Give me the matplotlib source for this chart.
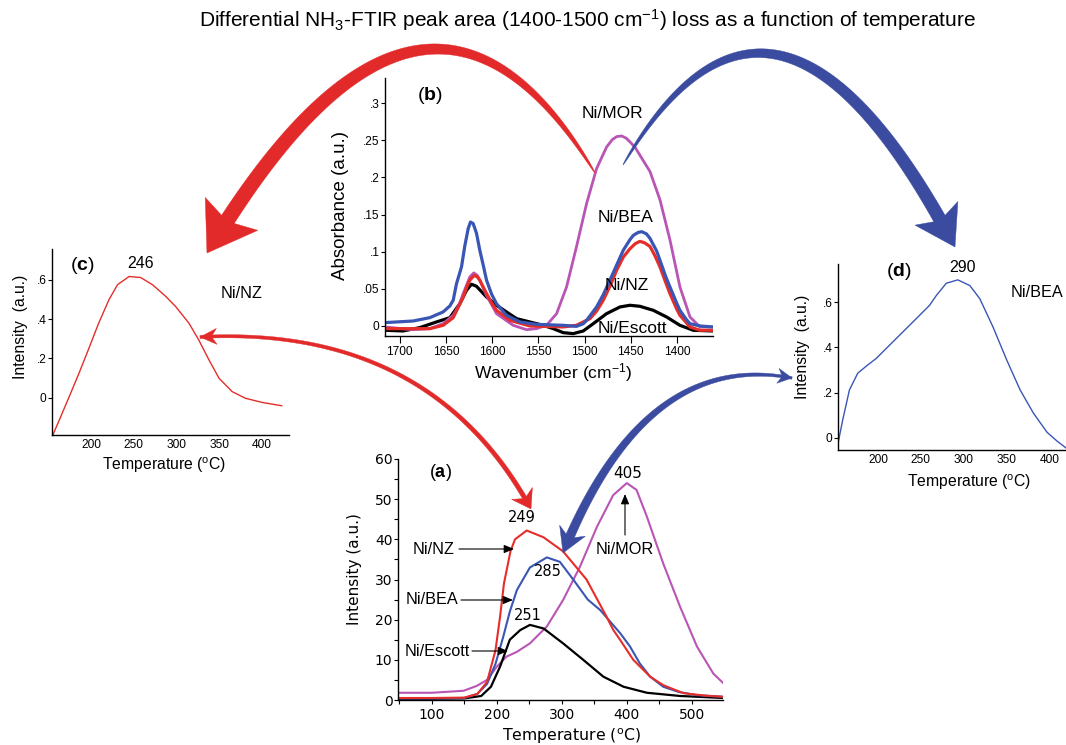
import numpy as np
import matplotlib
matplotlib.use('Agg')
import matplotlib.pyplot as plt
from matplotlib.patches import Polygon, FancyArrowPatch
from matplotlib import font_manager as fm

# ---------------- data ----------------
# (a) NH3-TPD profiles
tpd_nz_T = [50, 100, 150, 170, 185, 198, 205, 211, 221, 228, 246, 272, 302, 338, 369, 379, 390, 410, 436, 456, 487, 520, 549]
tpd_nz = [0.5, 0.5, 0.6, 1.5, 4.5, 12.4, 20.7, 29, 37, 40, 42.2, 40.5, 37, 30, 20.7, 17.5, 14.9, 10, 5.8, 3.7, 1.7, 1.1, 0.8]
tpd_bea_T = [50, 100, 150, 170, 185, 198, 210, 220, 231, 251, 277, 297, 318, 340, 359, 390, 405, 420, 436, 456, 480, 508, 549]
tpd_bea = [0.4, 0.4, 0.5, 1.5, 4, 9, 15.8, 22, 27.4, 33, 35.5, 34.4, 29.9, 25, 22.4, 16.6, 13.3, 9.1, 5.8, 3.3, 2, 1.2, 0.8]
tpd_esc_T = [50, 100, 150, 176, 191, 205, 220, 236, 251, 272, 302, 333, 364, 395, 431, 482, 549]
tpd_esc = [0.3, 0.3, 0.4, 1, 3.3, 8.3, 15, 17.4, 18.7, 17.8, 14.1, 10, 5.8, 3.3, 1.8, 1, 0.5]
tpd_mor_T = [50, 100, 149, 169, 185, 200, 215, 231, 251, 277, 302, 328, 354, 379, 400, 415, 431, 456, 482, 508, 533, 549]
tpd_mor = [1.8, 1.8, 2.3, 3.5, 5, 8.3, 10.8, 12, 14.1, 18.3, 24.9, 33.2, 43.1, 51, 54, 52.3, 45.6, 34, 23.2, 13.3, 6.6, 4.1]

# (b) NH3-FTIR spectra
ir_bea_w = [1716.2, 1685.6, 1667.5, 1653.1, 1645.8, 1642.2, 1638.6, 1633.2, 1629.6, 1626.0, 1623.5, 1620.6, 1617.0, 1613.4, 1609.7, 1606.1, 1600.7, 1595.3, 1584.5, 1570.0, 1552.0, 1523.1, 1508.7, 1501.4, 1497.8, 1487.0, 1479.8, 1472.6, 1465.3, 1458.1, 1451.0, 1447.3, 1442.0, 1438.0, 1433.0, 1429.2, 1422.0, 1418.4, 1412.0, 1407.6, 1400.0, 1396.8, 1390.0, 1385.9, 1375.1, 1361.4]
ir_bea = [.0045, .0067, .0112, .0189, .027, .0346, .057, .0796, .108, .131, .140, .138, .125, .102, .082, .0616, .043, .030, .0144, .0054, .0022, .0009, -.0005, .003, .0076, .0256, .042, .0616, .082, .102, .116, .122, .126, .127, .124, .118, .101, .0886, .066, .0526, .030, .0211, .009, .0031, 0, -.0013]
ir_nz_w = [1716.2, 1667.5, 1653.1, 1642.2, 1636.0, 1631.4, 1627.0, 1624.2, 1620.5, 1618.8, 1616.0, 1613.4, 1606.1, 1600.0, 1595.3, 1580.9, 1559.2, 1523.1, 1508.7, 1494.2, 1487.0, 1479.8, 1472.0, 1465.3, 1458.0, 1450.9, 1445.0, 1440.1, 1435.0, 1429.2, 1424.0, 1418.4, 1412.0, 1407.6, 1400.0, 1396.8, 1385.9, 1375.1, 1361.4]
ir_nz = [-.0036, -.0036, .0009, .0112, .027, .039, .054, .0616, .067, .068, .066, .0616, .0436, .030, .0211, .0076, 0, -.0013, .0009, .0099, .020, .0346, .055, .0751, .093, .104, .111, .114, .112, .107, .095, .0796, .058, .0436, .022, .0144, -.0013, -.0058, -.0058]
ir_mor_w = [1716.2, 1685.6, 1667.5, 1653.1, 1642.2, 1636.0, 1631.4, 1624.2, 1619.9, 1616.0, 1613.4, 1606.1, 1595.3, 1577.3, 1562.8, 1552.0, 1541.2, 1530.3, 1519.5, 1508.7, 1497.8, 1487.0, 1476.2, 1470.0, 1465.3, 1459.9, 1455.0, 1450.9, 1445.0, 1440.1, 1429.2, 1418.4, 1407.6, 1396.8, 1385.9, 1375.1, 1361.4]
ir_mor = [-.0013, -.005, -.0036, .0031, .0144, .028, .0436, .066, .0715, .068, .0616, .041, .0166, .0009, -.005, -.0036, .0009, .0166, .0526, .107, .165, .212, .241, .251, .255, .256, .253, .248, .240, .230, .208, .170, .116, .0526, .0121, -.0013, -.0013]
ir_esc_w = [1716.2, 1696.4, 1678.3, 1660.3, 1645.8, 1635.0, 1627.8, 1622.4, 1617.0, 1606.1, 1595.3, 1584.5, 1573.6, 1559.2, 1544.8, 1533.9, 1523.1, 1512.3, 1501.4, 1490.6, 1476.2, 1461.7, 1450.9, 1440.1, 1425.6, 1411.2, 1396.8, 1382.3, 1361.4]
ir_esc = [-.0058, -.0067, -.0022, .0054, .0112, .030, .048, .0562, .0535, .039, .0279, .0189, .0099, .0054, .0009, -.0036, -.009, -.0103, -.0067, .0031, .0166, .0256, .0279, .0265, .0211, .0121, .0009, -.0058, -.0067]

# (c) Ni/NZ differential peak area loss
diff_nz_T = [155.5, 163, 174.6, 186, 197.7, 209, 221, 231, 244.6, 258, 272, 287.6, 299, 314.6, 326, 338, 349.7, 365, 380.6, 400, 423]
diff_nz = [-0.19, -0.114, 0.005, 0.124, 0.252, 0.379, 0.498, 0.575, 0.617, 0.612, 0.575, 0.515, 0.464, 0.379, 0.294, 0.192, 0.099, 0.031, -0.003, -0.024, -0.041]
# (d) Ni/BEA differential peak area loss
diff_bea_T = [153, 159, 166.8, 176.5, 188, 198, 213.6, 229, 244.7, 260, 268, 279.6, 293, 307, 318.6, 334, 350, 365.6, 381, 397, 409, 419]
diff_bea = [-0.034, 0.08, 0.212, 0.286, 0.322, 0.351, 0.41, 0.468, 0.527, 0.585, 0.629, 0.683, 0.698, 0.673, 0.615, 0.49, 0.344, 0.212, 0.11, 0.025, -0.015, -0.044]

ir_xticks = [1700, 1650, 1600, 1550, 1500, 1450, 1400]
ir_yticks = [0, 0.05, 0.1, 0.15, 0.2, 0.25, 0.3]
ir_yticklabels = ['0', '.05', '.1', '.15', '.2', '.25', '.3']
diff_yticks = [0, 0.2, 0.4, 0.6]
diff_yticklabels = ['0', '.2', '.4', '.6']
diff_xticks = [200, 250, 300, 350, 400]
tpd_xticks = [100, 200, 300, 400, 500]
tpd_yticks = [0, 10, 20, 30, 40, 50, 60]

# ---------------- style ----------------
W, H = 1066, 745
plt.rcParams['mathtext.default'] = 'regular'
plt.rcParams['mathtext.fontset'] = 'custom'
plt.rcParams['mathtext.rm'] = 'Liberation Sans'
plt.rcParams['mathtext.bf'] = 'Liberation Sans:bold'
names = {f.name for f in fm.fontManager.ttflist}
ARIAL = 'Liberation Sans'
if 'Liberation Sans Narrow' in names:
    NARROW, NSIZE = 'Liberation Sans Narrow', 10
else:
    NARROW, NSIZE = 'Liberation Sans', 8.6
VERD = 'DejaVu Sans'

C_RED = '#e52d2a'
C_BLUE = '#3a56b4'
C_MAG = '#b955b5'
C_ARR_BLUE = '#3b4ca0'
C_ARR_RED = '#e32a2a'

fig = plt.figure(figsize=(W / 100, H / 100), dpi=100)


def add_ax(l, t, r, b):
    ax = fig.add_axes([l / W, 1 - b / H, (r - l) / W, (b - t) / H])
    ax.set_facecolor('none')
    for s in ['top', 'right']:
        ax.spines[s].set_visible(False)
    for s in ['left', 'bottom']:
        ax.spines[s].set_linewidth(1.0)
    return ax


def ftext(x, y, s, **kw):
    kw.setdefault('ha', 'center')
    kw.setdefault('va', 'center')
    return fig.text(x / W, 1 - y / H, s, **kw)


def fpt(p):
    return (p[0] / W, 1 - p[1] / H)


# ---------------- panel (b) ----------------
axb = add_ax(385, 78, 713, 336)
axb.plot(ir_esc_w, ir_esc, color='black', lw=2.3, solid_joinstyle='round')
axb.plot(ir_mor_w, ir_mor, color=C_MAG, lw=2.0, solid_joinstyle='round')
axb.plot(ir_nz_w, ir_nz, color=C_RED, lw=2.3, solid_joinstyle='round')
axb.plot(ir_bea_w, ir_bea, color=C_BLUE, lw=2.3, solid_joinstyle='round')
axb.set_xlim(1716, 1361)
axb.set_ylim(-0.0135, 0.334)
axb.set_xticks(ir_xticks)
axb.set_yticks(ir_yticks)
axb.set_yticklabels(ir_yticklabels)
axb.tick_params(axis='x', length=5, width=0.8, pad=2, labelsize=NSIZE, labelfontfamily=NARROW)
axb.tick_params(axis='y', length=3, width=0.8, pad=1, labelsize=NSIZE, labelfontfamily=NARROW)
ftext(553, 373, 'Wavenumber (cm$^{-1}$)', fontsize=12.5, family=ARIAL)
ftext(341, 205, 'Absorbance (a.u.)', fontsize=13.5, family=ARIAL, rotation=90)
ftext(430, 96, r'($\mathbf{b}$)', fontsize=14, family=ARIAL)
ftext(612, 113, 'Ni/MOR', fontsize=12.5, family=ARIAL)
ftext(626, 217, 'Ni/BEA', fontsize=12.5, family=ARIAL)
ftext(627, 285, 'Ni/NZ', fontsize=12.5, family=ARIAL)
ftext(632, 328, 'Ni/Escott', fontsize=12.5, family=ARIAL)

# ---------------- panel (c) ----------------
axc = add_ax(52, 249, 289, 435)
axc.plot(diff_nz_T, diff_nz, color=C_RED, lw=1.0)
axc.set_xlim(154.5, 431.5)
axc.set_ylim(-0.19, 0.757)
axc.set_xticks(diff_xticks)
axc.set_yticks(diff_yticks)
axc.set_yticklabels(diff_yticklabels)
axc.tick_params(axis='x', length=0, pad=3, labelsize=NSIZE, labelfontfamily=NARROW)
axc.tick_params(axis='y', length=3, width=0.8, pad=1, labelsize=NSIZE, labelfontfamily=NARROW)
ftext(164, 465, 'Temperature ($^{o}$C)', fontsize=11.3, family=ARIAL)
ftext(20, 327, 'Intensity  (a.u.)', fontsize=11.3, family=ARIAL, rotation=90)
ftext(82, 265, r'($\mathbf{c}$)', fontsize=14, family=ARIAL)
ftext(141, 263, '246', fontsize=11.5, family=ARIAL)
ftext(242, 294, 'Ni/NZ', fontsize=11.7, family=ARIAL)

# ---------------- panel (d) ----------------
axd = add_ax(838, 264, 1066, 450)
axd.plot(diff_bea_T, diff_bea, color=C_BLUE, lw=1.0)
axd.set_xlim(153.5, 419)
axd.set_ylim(-0.053, 0.768)
axd.set_xticks(diff_xticks)
axd.set_yticks(diff_yticks)
axd.set_yticklabels(diff_yticklabels)
axd.tick_params(axis='x', length=0, pad=3, labelsize=NSIZE, labelfontfamily=NARROW)
axd.tick_params(axis='y', length=3, width=0.8, pad=1, labelsize=NSIZE, labelfontfamily=NARROW)
ftext(969, 482, 'Temperature ($^{o}$C)', fontsize=11.3, family=ARIAL)
ftext(802, 347, 'Intensity  (a.u.)', fontsize=11.3, family=ARIAL, rotation=90)
ftext(899, 271, r'($\mathbf{d}$)', fontsize=14, family=ARIAL)
ftext(962, 268, '290', fontsize=11.5, family=ARIAL)
ftext(1037, 292, 'Ni/BEA', fontsize=11.7, family=ARIAL)

# ---------------- panel (a) ----------------
axa = add_ax(398, 459, 723, 700)
axa.plot(tpd_mor_T, tpd_mor, color=C_MAG, lw=1.5)
axa.plot(tpd_esc_T, tpd_esc, color='black', lw=1.6)
axa.plot(tpd_bea_T, tpd_bea, color=C_BLUE, lw=1.5)
axa.plot(tpd_nz_T, tpd_nz, color=C_RED, lw=1.5)
axa.set_xlim(48, 548)
axa.set_ylim(0, 60)
axa.set_xticks(tpd_xticks)
axa.set_xticks([50, 150, 250, 350, 450], minor=True)
axa.set_yticks(tpd_yticks)
axa.set_yticks([5, 15, 25, 35, 45, 55], minor=True)
axa.tick_params(axis='both', which='major', length=3, width=0.8, labelsize=10, labelfontfamily=VERD)
axa.tick_params(axis='x', which='major', pad=3)
axa.tick_params(axis='y', which='major', pad=1)
axa.tick_params(axis='both', which='minor', length=3, width=0.8)
ftext(572, 736, 'Temperature ($^{o}$C)', fontsize=11.3, family=VERD)
ftext(354, 569, 'Intensity (a.u.)', fontsize=11, family=VERD, rotation=90)
ftext(440, 472, r'($\mathbf{a}$)', fontsize=13, family=ARIAL)
ftext(522, 518, '249', fontsize=10.5, family=VERD)
ftext(548, 571, '285', fontsize=10.5, family=VERD)
ftext(528, 616, '251', fontsize=10.5, family=VERD)
ftext(628, 474, '405', fontsize=11, family=VERD)
ftext(455, 549, 'Ni/NZ', fontsize=11.7, family=ARIAL, ha='right')
ftext(458, 600, 'Ni/BEA', fontsize=11.7, family=ARIAL, ha='right')
ftext(470, 652, 'Ni/Escott', fontsize=11.7, family=ARIAL, ha='right')
ftext(625, 550, 'Ni/MOR', fontsize=11.7, family=ARIAL)


def small_arrow(p0, p1):
    fig.add_artist(FancyArrowPatch(fpt(p0), fpt(p1), transform=fig.transFigure,
                                   arrowstyle='-|>,head_length=0.6,head_width=0.25',
                                   mutation_scale=10, lw=0.8, color='black',
                                   shrinkA=0, shrinkB=0))


small_arrow((459, 549), (514, 549))
small_arrow((461, 600), (513, 600))
small_arrow((472, 651), (508, 651))
small_arrow((625, 535), (625, 494))

title = ftext(587, 20, 'Differential NH$_3$-FTIR peak area (1400-1500 cm$^{-1}$) loss as a function of temperature',
              fontsize=15, family=ARIAL)


# ---------------- curved, tapered arrows ----------------
def qb(P0, C, P1, t):
    t = np.asarray(t)[:, None]
    return (1 - t) ** 2 * P0 + 2 * (1 - t) * t * C + t ** 2 * P1


def add_poly(pts, color):
    pts = np.asarray(pts, float)
    fp = np.column_stack([pts[:, 0] / W, 1 - pts[:, 1] / H])
    fig.add_artist(Polygon(fp, closed=True, transform=fig.transFigure,
                           facecolor=color, edgecolor=color, lw=0.3, zorder=5))


def head_at(pts, tip, hl, hw):
    dist = np.linalg.norm(pts - tip, axis=1)
    ib = np.where(dist >= hl)[0][-1]
    base = pts[ib]
    d = tip - base
    d = d / np.linalg.norm(d)
    n = np.array([-d[1], d[0]])
    return base + n * hw / 2, base - n * hw / 2


def curved_arrow(P0, C, P1, w0, w1, hl, hw, color, notch=0.2, start_head=None, taper=0.6):
    P0, C, P1 = (np.array(p, float) for p in (P0, C, P1))
    t = np.linspace(0, 1, 600)
    pts = qb(P0, C, P1, t)
    dist = np.linalg.norm(pts - P1, axis=1)
    ij = np.where(dist >= hl * (1 - notch))[0][-1]
    shaft = pts[:ij + 1]
    tang = np.gradient(shaft, axis=0)
    tang = tang / np.linalg.norm(tang, axis=1)[:, None]
    nrm = np.column_stack([-tang[:, 1], tang[:, 0]])
    s = np.linspace(0, 1, len(shaft))
    w = w0 + (w1 - w0) * s ** taper
    left = shaft + nrm * w[:, None] / 2
    right = shaft - nrm * w[:, None] / 2
    wl, wr = head_at(pts, P1, hl, hw)
    add_poly(np.vstack([left, wl, P1, wr, right[::-1]]), color)
    if start_head is not None:
        shl, shw, snotch = start_head
        rpts = pts[::-1]
        dist0 = np.linalg.norm(rpts - P0, axis=1)
        ij0 = np.where(dist0 >= shl * (1 - snotch))[0][-1]
        notch_pt = rpts[ij0]
        wl0, wr0 = head_at(rpts, P0, shl, shw)
        add_poly(np.vstack([notch_pt, wl0, P0, wr0]), color)


# big arrows from (b) to (c) and (d)
curved_arrow((595, 173), (424, -110), (207, 253), 0.0, 15, 46, 62, C_ARR_RED, notch=0.15, taper=0.5)
curved_arrow((623, 165), (775, -94), (955, 247), 0.0, 13, 38, 49, C_ARR_BLUE, notch=0.15, taper=0.5)
# double-headed arrows linking (c)/(d) with (a)
curved_arrow((200, 337), (430, 325), (531, 509), 3.0, 4.5, 18, 24, C_ARR_RED, notch=0.3,
             start_head=(16, 16, 0.3), taper=1.0)
curved_arrow((792, 378), (645, 350), (563, 553), 2.5, 9.0, 24, 28, C_ARR_BLUE, notch=0.25,
             start_head=(14, 15, 0.3), taper=1.0)

fig.savefig('out.png', dpi=100)
